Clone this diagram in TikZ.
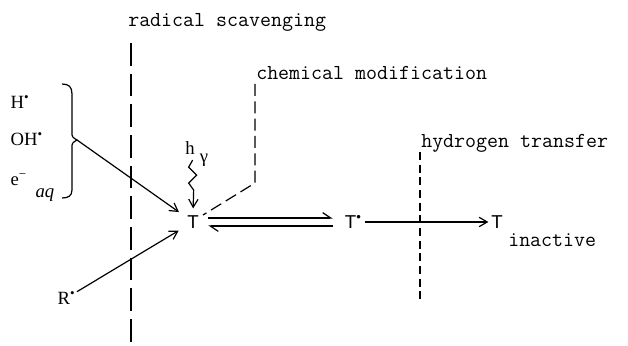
\documentclass[tikz,border=0pt]{standalone}
\usepackage{fontspec}
\setmainfont{Liberation Serif}
\setsansfont{Liberation Sans}
\usetikzlibrary{positioning,arrows.meta}

\begin{document}
\begin{tikzpicture}[x=0.75pt,y=0.75pt,
  every node/.style={font=\fontsize{14}{16}\selectfont, inner sep=1pt},
  lbl/.style={font=\fontsize{16}{18}\selectfont\ttfamily, anchor=west, inner sep=0pt},
  spec/.style={anchor=west},
  spc/.style={font=\fontsize{14}{16}\selectfont\sffamily, inner sep=2pt, text height=10pt, text depth=0pt},
  bigdash/.style={line width=1pt, dash pattern=on 17pt off 6pt},
  middash/.style={line width=0.9pt, dash pattern=on 9pt off 4pt},
  smalldash/.style={line width=0.9pt, dash pattern=on 6pt off 3.5pt},
  arr/.style={line width=0.9pt, -{Straight Barb[length=6pt,width=7pt]}},
  harp/.style={line width=0.9pt, -{Straight Barb[left,length=6pt,width=8pt]}},
  into/.style={shorten >=5pt}]

  \useasboundingbox (0,0) rectangle (628,346);

  % species
  \node[spc] (t) at (193,124) {T};
  \node[spc, anchor=west] (trad) at (342,124) {T\textsuperscript{•}};
  \node[spc] (tin) at (497,124) {T};
  \node[lbl] (inact) at (508,106) {inactive};

  \node[spec] (hrad) at (9,244) {H\textsuperscript{•}};
  \node[spec] (ohrad) at (9,207) {OH\textsuperscript{•}};
  \node[spec] (eaq) at (9,166) {e\textsuperscript{−}};
  \node[spec] (aq) at (34,151) {\textit{aq}};
  \node[spec] (rrad) at (56,48) {R\textsuperscript{•}};
  \node (h) at (190,198) {h};
  \node (gam) at (204,186) {γ};

  % brace
  \coordinate (cusp) at (77,206);
  \draw[line width=0.9pt] (62,262) .. controls (69,262) and (72,259) .. (72,252)
    -- (72,214) .. controls (72,209) .. (cusp)
    .. controls (72,203) .. (72,198) -- (72,156)
    .. controls (72,150) and (68,148) .. (62,148);

  % pathways
  \draw[arr, into] (cusp) -- (t);
  \draw[arr, into] (rrad) -- (t);
  \draw[arr, shorten >=3pt] ([xshift=2pt,yshift=-3pt]h.south) -- ++(-4,-7) -- ++(8,-8)
    -- ++(-8,-8) -- ++(5,-7) -- (t.north);
  \draw[harp] ([xshift=5pt,yshift=3pt]t.east) -- ([xshift=-7pt,yshift=3pt]trad.west);
  \draw[harp] ([xshift=-7pt,yshift=-3pt]trad.west) -- ([xshift=5pt,yshift=-3pt]t.east);
  \draw[arr] (trad) -- (tin);

  % boundaries
  \node[lbl] (scav) at (128,324) {radical scavenging};
  \draw[bigdash] (131,303) -- (131,3);

  \node[lbl] (chem) at (256,273) {chemical modification};
  \draw[middash] (255,262) -- (255,163) -- (203,131);

  \node[lbl] (htr) at (421,203) {hydrogen transfer};
  \draw[smalldash] (420,194) -- (420,46);
\end{tikzpicture}
\end{document}
